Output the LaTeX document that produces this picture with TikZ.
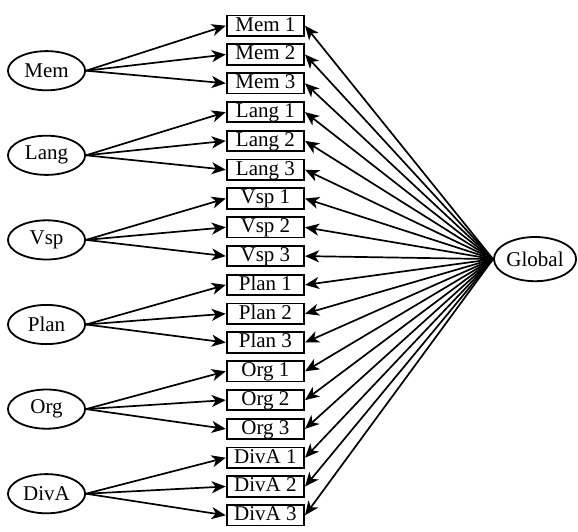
\documentclass[tikz,border=0pt]{standalone}
\usepackage{fontspec}
\setmainfont{Liberation Serif}
\usetikzlibrary{shapes.geometric}
\usetikzlibrary{positioning,arrows.meta}

\begin{document}
\begin{tikzpicture} [ node distance=3.25pt,>={Stealth[length=7pt,width=6pt,inset=2pt]},
    every node/.style={draw, line width=0.9pt,
    font=\fontsize{10.5pt}{12pt}\selectfont} ,
    item/.style= {rectangle, minimum width=38.75pt, minimum height=10.25pt,
      inner sep=0.5pt, text height=7.3pt, text depth=1.9pt},
    factor/.style= {ellipse, minimum width=38.6pt, minimum height=19.6pt, inner sep=0pt},
    con/.style={->, line width=0.85pt}
    ]
    \useasboundingbox (-132.7pt,-252.65pt) rectangle (156.3pt,12.85pt);
    \node (m1) [item] {Mem 1};
    \node (m2) [item, below=of m1] {Mem 2};
    \node (m3) [item, below=of m2] {Mem 3};
    \node (l1) [item, below=of m3] {Lang 1};
    \node (l2) [item, below=of l1] {Lang 2};
    \node (l3) [item, below=of l2] {Lang 3};
    \node (v1) [item, below=of l3] {Vsp 1};
    \node (v2) [item, below=of v1] {Vsp 2};
    \node (v3) [item, below=of v2] {Vsp 3};
    \node (p1) [item, below=of v3] {Plan 1};
    \node (p2) [item, below=of p1] {Plan 2};
    \node (p3) [item, below=of p2] {Plan 3};
    \node (o1) [item, below=of p3] {Org 1};
    \node (o2) [item, below=of o1] {Org 2};
    \node (o3) [item, below=of o2] {Org 3};
    \node (d1) [item, below=of o3] {DivA 1};
    \node (d2) [item, below=of d1] {DivA 2};
    \node (d3) [item, below=of d2] {DivA 3};

    \node (mem) [factor, left=69.85pt of m1, yshift=-22.5pt] {Mem};
    \node (lang) [factor, below=21.8pt of mem] {Lang};
    \node (vsp) [factor, below=21.8pt of lang] {Vsp};
    \node (plan) [factor, below=21.8pt of vsp] {Plan};
    \node (org) [factor, below=21.8pt of plan] {Org};
    \node (diva) [factor, below=21.8pt of org] {DivA};
    \node (glob) [factor, minimum width=41.1pt, minimum height=22.1pt,
      right=94pt of v3, yshift=-1.5pt] {Global};

     \draw   [con]  (mem.east) -- (m1.west);
     \draw   [con]  (mem.east) -- (m2.west);
     \draw   [con]  (mem.east) -- (m3.west);
     \draw   [con]  (lang.east) -- (l1.west);
     \draw   [con]  (lang.east) -- (l2.west);
     \draw   [con]  (lang.east) -- (l3.west);
     \draw   [con]  (vsp.east) -- (v1.west);
     \draw   [con]  (vsp.east) -- (v2.west);
     \draw   [con]  (vsp.east) -- (v3.west);
     \draw   [con]  (plan.east) -- (p1.west);
     \draw   [con]  (plan.east) -- (p2.west);
     \draw   [con]  (plan.east) -- (p3.west);
     \draw   [con]  (org.east) -- (o1.west);
     \draw   [con]  (org.east) -- (o2.west);
     \draw   [con]  (org.east) -- (o3.west);
     \draw   [con]  (diva.east) -- (d1.west);
     \draw   [con]  (diva.east) -- (d2.west);
     \draw   [con]  (diva.east) -- (d3.west);

     \draw   [con]  (glob.west) -- (m1.east);
     \draw   [con]  (glob.west) -- (m2.east);
     \draw   [con]  (glob.west) -- (m3.east);
     \draw   [con]  (glob.west) -- (l1.east);
     \draw   [con]  (glob.west) -- (l2.east);
     \draw   [con]  (glob.west) -- (l3.east);
     \draw   [con]  (glob.west) -- (v1.east);
     \draw   [con]  (glob.west) -- (v2.east);
     \draw   [con]  (glob.west) -- (v3.east);
     \draw   [con]  (glob.west) -- (p1.east);
     \draw   [con]  (glob.west) -- (p2.east);
     \draw   [con]  (glob.west) -- (p3.east);
     \draw   [con]  (glob.west) -- (o1.east);
     \draw   [con]  (glob.west) -- (o2.east);
     \draw   [con]  (glob.west) -- (o3.east);
     \draw   [con]  (glob.west) -- (d1.east);
     \draw   [con]  (glob.west) -- (d2.east);
     \draw   [con]  (glob.west) -- (d3.east);
  \end{tikzpicture}
\end{document}
